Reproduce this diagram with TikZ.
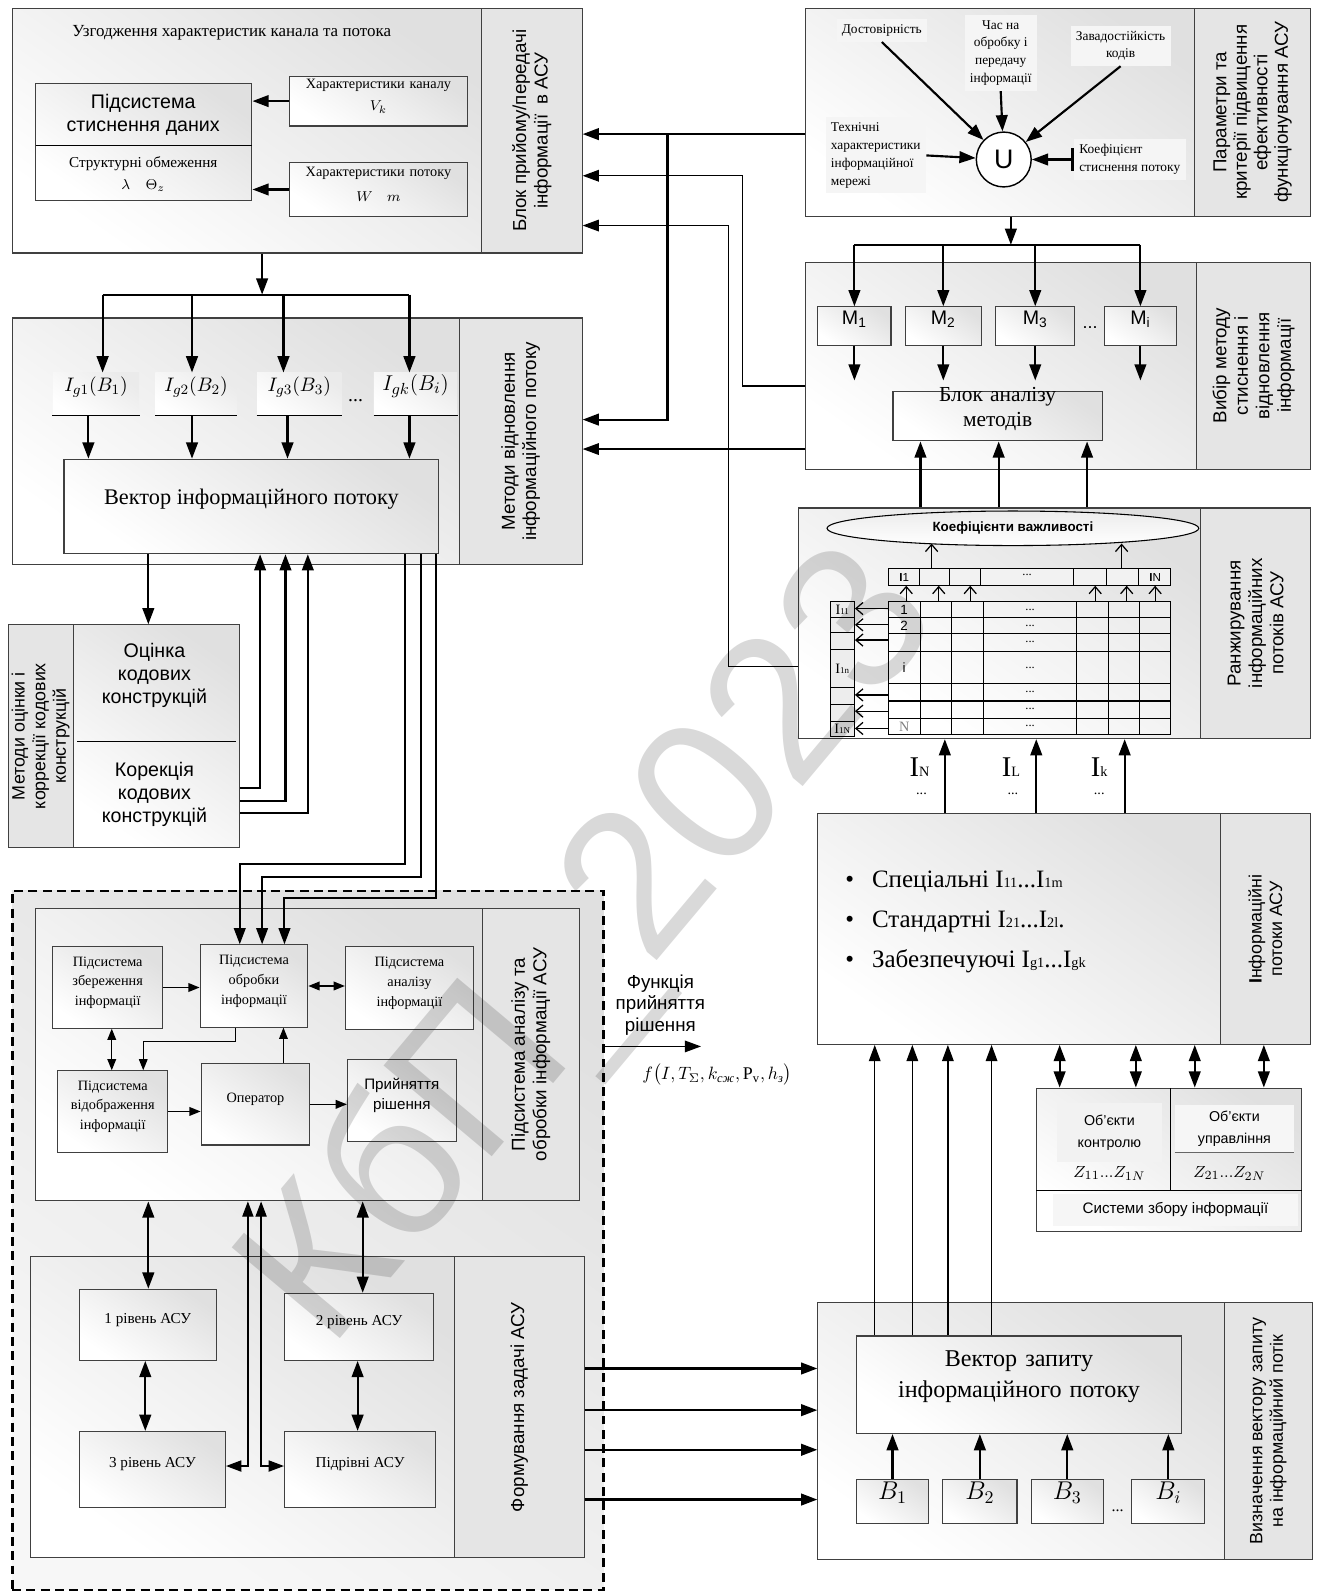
\documentclass[tikz,border=0pt]{standalone}
\usepackage{fontspec}
\usepackage{amsmath}
\setmainfont{Liberation Serif}
\setsansfont{Liberation Sans}
\usetikzlibrary{arrows.meta,calc,fit,positioning,shapes.geometric}
\newcommand\fsz[2]{\fontsize{#1}{#2}\selectfont}
\newcommand\lowi[2][8]{{\fontsize{#1}{#1}\selectfont #2}}

\begin{document}
\begin{tikzpicture}[x=0.02cm,y=-0.02cm,
  blk/.style={draw=black!75,line width=0.6pt,inner sep=0pt,
    top color=gray!24,bottom color=white,shading angle=-35},
  strip/.style={draw=black!75,line width=0.6pt,inner sep=0pt,fill=gray!20},
  slbl/.style={rotate=90,align=center,font=\sffamily\fsz{10.5}{12}},
  ibox/.style={blk,align=center,font=\fsz{8}{11}},
  igb/.style={inner sep=0pt,top color=gray!16,bottom color=white,shading angle=-35},
  ptxt/.style={font=\fsz{7.5}{10},align=center,fill=gray!8,inner sep=3pt},
  dshbox/.style={draw,line width=1.6pt,dash pattern=on 5pt off 3pt,inner sep=0pt,
    top color=gray!24,bottom color=gray!6,shading angle=-35},
  arr/.style={-{Triangle[length=3.2mm,width=2.3mm]},line width=1.2pt},
  darr/.style={{Triangle[length=3.2mm,width=2.3mm]}-{Triangle[length=3.2mm,width=2.3mm]},line width=1.2pt},
  tarr/.style={-{Triangle[length=3.2mm,width=2.3mm]},line width=0.7pt},
  tdarr/.style={{Triangle[length=3mm,width=2.2mm]}-{Triangle[length=3mm,width=2.2mm]},line width=0.7pt},
  sarr/.style={-{Triangle[length=2.2mm,width=1.7mm]},line width=0.8pt},
  sdarr/.style={{Triangle[length=2.2mm,width=1.7mm]}-{Triangle[length=2.2mm,width=1.7mm]},line width=0.8pt},
  chev/.style={-{Straight Barb[length=1.4mm,width=2.4mm]},line width=0.7pt},
  busln/.style={line width=1.2pt}]

\fill[white] (0,0) rectangle (1305,1568);
\useasboundingbox (0,0) rectangle (1305,1568);

% block: receive / transmit
\node[blk,fit={(12,8)(474,249)}] (tx) {};
\node[strip,fit={(474,8)(573,249)}] (txS) {};
\node[slbl] at (txS) {Блок прийому/передачі\\інформації\ \ в АСУ};
\node[font=\fsz{9.5}{11}] (txT) at (228,32) {Узгодження характеристик канала та потока};
\node[blk,fit={(35,82)(248,197)}] (szh) {};
\coordinate (szhM) at (35,143);
\draw[line width=0.6pt] (szhM) -- (szhM -| szh.east);
\node[font=\sffamily\fsz{11}{13},align=center] (szhT) at (141,113) {Підсистема\\стиснення даних};
\node[font=\fsz{8.5}{12.5},align=center] (szhB) at (141,171) {Структурні обмеження\\$\lambda\quad\Theta_z$};
\node[blk,fit={(285,75)(460,124)},font=\fsz{8}{12.5},align=center] (chk) {Характеристики каналу\\$V_k$};
\node[blk,fit={(285,160)(460,213)},font=\fsz{8}{14},align=center] (chp) {Характеристики потоку\\$W\quad m$};

% block: restoring methods
\node[blk,fit={(12,313)(452,556)}] (vidn) {};
\node[strip,fit={(452,313)(573,556)}] (vidnS) {};
\node[slbl] at (vidnS) {Методи відновлення\\інформаційного потоку};
\node[igb,fit={(52,367)(137,409)},font=\fsz{11}{13}] (ig1) {$I_{g1}(B_1)$};
\node[igb,fit={(153,367)(233,409)},font=\fsz{11}{13}] (ig2) {$I_{g2}(B_2)$};
\node[igb,fit={(253,367)(336,409)},font=\fsz{11}{13}] (ig3) {$I_{g3}(B_3)$};
\node[igb,fit={(368,367)(450,409)},font=\fsz{12.5}{14}] (ig4) {$I_{gk}(B_i)$};
\node[font=\fsz{11}{13}] (igd) at (350,394) {...};
\foreach \n in {ig1,ig2,ig3,ig4}
  \draw[line width=0.6pt] (\n.south west) -- (\n.south east);
\node[blk,fit={(63,452)(432,545)},font=\fsz{12.5}{15}] (vek) {Вектор інформаційного потоку};

% block: code constructions
\node[blk,fit={(72,615)(236,834)}] (kod) {};
\node[strip,fit={(8,615)(72,834)}] (kodS) {};
\node[slbl,font=\sffamily\fsz{10}{11.5}] at (kodS) {Методи оцінки і\\коррекції кодових\\конструкцій};
\coordinate (kodM1) at (76,730);
\coordinate (kodM2) at (232,730);
\draw[line width=0.6pt] (kodM1) -- (kodM2);
\node[font=\sffamily\fsz{11}{13},align=center] (ots) at (152,665) {Оцінка\\кодових\\конструкцій};
\node[font=\sffamily\fsz{11}{13},align=center] (kor) at (152,782) {Корекція\\кодових\\конструкцій};

% dashed group
\node[dshbox,fit={(12,877)(594,1565)}] (dshB) {};
\node[blk,fit={(35,894)(475,1182)}] (ana) {};
\node[strip,fit={(475,894)(570,1182)}] (anaS) {};
\node[slbl] at (anaS) {Підсистема аналізу та\\обробки інформації АСУ};
\node[ibox,fit={(52,932)(160,1012)}] (zber) {Підсистема\\збереження\\інформації};
\node[ibox,fit={(197,930)(303,1011)}] (obr) {Підсистема\\обробки\\інформації};
\node[ibox,fit={(340,932)(466,1013)}] (anl) {Підсистема\\аналізу\\інформації};
\node[ibox,fit={(57,1054)(165,1134)}] (vid) {Підсистема\\відображення\\інформації};
\node[ibox,fit={(198,1047)(305,1127)}] (oper) {Оператор};
\node[ibox,fit={(342,1043)(449,1124)},font=\sffamily\fsz{8.5}{11}] (pr) {Прийняття\\рішення};

\node[blk,fit={(30,1237)(447,1533)}] (frm) {};
\node[strip,fit={(447,1237)(575,1533)}] (frmS) {};
\node[slbl] at (frmS) {Формування задачі АСУ};
\node[ibox,fit={(78,1269)(213,1339)},font=\fsz{8.5}{11}] (lv1) {1 рівень АСУ};
\node[ibox,fit={(280,1273)(427,1339)},font=\fsz{8.5}{11}] (lv2) {2 рівень АСУ};
\node[ibox,fit={(78,1409)(222,1484)},font=\fsz{8.5}{11}] (lv3) {3 рівень АСУ};
\node[ibox,fit={(280,1409)(429,1484)},font=\fsz{8.5}{11}] (pidr) {Підрівні АСУ};

% block: parameters
\node[blk,fit={(793,8)(1176,213)}] (par) {};
\node[strip,fit={(1176,8)(1290,213)}] (parS) {};
\node[slbl,font=\sffamily\fsz{10.5}{11.5}] at (parS) {Параметри та\\критерії підвищення\\ефективності\\функціонування АСУ};
\node[ptxt] (dost) at (868,30) {Достовірність};
\node[ptxt] (chas) at (985,52) {Час на\\обробку і\\передачу\\інформації};
\node[ptxt] (zav) at (1103,45) {Завадостійкість\\кодів};
\node[ptxt,align=left] (tekh) at (862,153) {Технічні\\характеристики\\інформаційної\\мережі};
\node[ptxt,align=left] (koef) at (1112,157) {Коефіцієнт\\стиснення потоку};
\node[draw,circle,line width=0.8pt,fill=white,minimum size=1.08cm,inner sep=0pt,
  font=\sffamily\fsz{15}{16}] (uni) at (988,157) {U};

% block: method choice
\node[blk,fit={(793,258)(1178,462)}] (vyb) {};
\node[strip,fit={(1178,258)(1290,462)}] (vybS) {};
\node[slbl] at (vybS) {Вибір методу\\стиснення і\\відновлення\\інформації};
\node[blk,fit={(805,302)(877,340)},font=\sffamily\fsz{11}{13}] (m1) {M\textsubscript{1}};
\node[blk,fit={(891,302)(966,340)},font=\sffamily\fsz{11}{13}] (m2) {M\textsubscript{2}};
\node[blk,fit={(980,302)(1058,340)},font=\sffamily\fsz{11}{13}] (m3) {M\textsubscript{3}};
\node[blk,fit={(1087,302)(1158,340)},font=\sffamily\fsz{11}{13}] (m4) {M\textsubscript{i}};
\node[font=\sffamily\fsz{10}{12}] (md) at (1073,322) {...};
\node[blk,fit={(879,385)(1085,434)},font=\fsz{12}{14},align=center] (ban) {Блок аналізу\\методів};

% block: ranking
\node[blk,fit={(786,500)(1182,727)}] (rank) {};
\node[strip,fit={(1182,500)(1290,727)}] (rankS) {};
\node[slbl] at (rankS) {Ранжирування\\інформаційних\\потоків АСУ};
\node[draw,ellipse,line width=0.6pt,minimum width=7.32cm,minimum height=0.68cm,inner sep=0pt,
  top color=gray!15,bottom color=white,font=\sffamily\bfseries\fsz{7.5}{9}] (kv) at (997,520) {Коефіцієнти важливості};
\node[draw,line width=0.6pt,inner sep=0pt,fill=gray!10,fit={(875,560)(1152,576)}] (trow) {};
\foreach \x in {905,935,965,1057,1089,1121}
  \draw[line width=0.6pt] (\x,560) -- (\x,576);
\node[font=\sffamily\fsz{6.5}{7}] (tr1) at (890,568) {{\bfseries I}1};
\node[font=\sffamily\fsz{6.5}{7}] (trN) at (1137,568) {{\bfseries I}N};
\node[font=\fsz{7}{8}] (trd) at (1011,566) {...};
\node[draw,line width=0.6pt,inner sep=0pt,top color=gray!14,bottom color=white,shading angle=-35,
  fit={(875,592)(1152,723)}] (tab) {};
\foreach \x in {906,937,968,1060,1091,1122}
  \draw[line width=0.6pt] (\x,592) -- (\x,723);
\foreach \y in {608,624,641,673,690,707}
  \draw[line width=0.6pt] (875,\y) -- (1152,\y);
\foreach \y/\t [count=\i] in {600/1,616/2,657/i}
  \node[font=\sffamily\fsz{7.5}{8}] (rw\i) at (890,\y) {\t};
\node[font=\fsz{8}{9},text=gray] (rwN) at (890,715) {N};
\foreach \y [count=\i] in {600,616,632,657,681,698,715}
  \node[font=\fsz{7}{8}] (td\i) at (1014,\y) {...};
\node[draw,line width=0.6pt,inner sep=0pt,fill=gray!14,fit={(817,592)(841,725)}] (lcol) {};
\foreach \y in {608,623,639,677,693,710}
  \draw[line width=0.6pt] (817,\y) -- (841,\y);
\node[font=\fsz{8}{9}] (lc1) at (829,600) {I\lowi[5]{11}};
\node[font=\fsz{8}{9}] (lc2) at (829,658) {I\lowi[5]{1n}};
\node[font=\fsz{8}{9}] (lc3) at (829,717) {I\lowi[5]{1N}};
\node[font=\fsz{16}{18}] (lbN) at (905,755) {I\lowi{N}};
\node[font=\fsz{16}{18}] (lbL) at (995,755) {I\lowi{L}};
\node[font=\fsz{16}{18}] (lbK) at (1082,755) {I\lowi{k}};
\node[font=\fsz{8}{9}] (dN) at (907,781) {...};
\node[font=\fsz{8}{9}] (dL) at (997,781) {...};
\node[font=\fsz{8}{9}] (dK) at (1082,781) {...};

% block: information flows
\node[blk,fit={(805,801)(1201,1028)}] (inf) {};
\node[strip,fit={(1201,801)(1290,1028)}] (infS) {};
\node[slbl,font=\sffamily\fsz{10}{11.5}] at (infS) {{\bfseries І}нформаційні\\потоки АСУ};
\node[anchor=west,font=\fsz{14}{16}] (bl1) at (826,868) {\textbullet\hspace{10pt}Спеціальні I\lowi{11}...I\lowi{1m}};
\node[anchor=west,font=\fsz{14}{16}] (bl2) at (826,907) {\textbullet\hspace{10pt}Стандартні I\lowi{21}...I\lowi{2l}.};
\node[anchor=west,font=\fsz{14}{16}] (bl3) at (826,946) {\textbullet\hspace{10pt}Забезпечуючі I\lowi{g1}...I\lowi{gk}};

% block: collection systems
\node[blk,fit={(1020,1071)(1281,1212)}] (zb) {};
\node[fill=gray!10,inner sep=0pt,minimum width=2.08cm,minimum height=1.16cm,
  font=\sffamily\fsz{8}{12},align=center] (okon) at (1092,1115) {Об’єкти\\контролю};
\node[fill=gray!7,inner sep=0pt,minimum width=2.34cm,minimum height=0.92cm,
  font=\sffamily\fsz{8}{12},align=center] (oupr) at (1215,1111) {Об’єкти\\управління};
\draw[line width=0.5pt,black!60] (oupr.south west) -- (oupr.south east);
\coordinate (zbD) at (1152,1071);
\coordinate (zbH) at (1020,1172);
\draw[line width=0.6pt] (zbD) -- (zbD |- zbH);
\draw[line width=0.6pt] (zbH) -- (zbH -| zb.east);
\node[font=\fsz{9.5}{11}] (z1) at (1092,1155) {$Z_{11}...Z_{1N}$};
\node[font=\fsz{9.5}{11}] (z2) at (1210,1155) {$Z_{21}...Z_{2N}$};
\node[fill=gray!7,inner sep=0pt,minimum width=4.84cm,minimum height=0.62cm,
  font=\sffamily\fsz{8.5}{10}] (szb) at (1157,1191) {Системи збору інформації};

% block: request vector
\node[blk,fit={(805,1282)(1205,1535)}] (vz) {};
\node[strip,fit={(1205,1282)(1292,1535)}] (vzS) {};
\node[slbl,font=\sffamily\fsz{10}{11.5}] at (vzS) {Визначення вектору запиту\\на інформаційний потік};
\node[blk,fit={(843,1315)(1163,1411)},font=\fsz{13.5}{17},align=center] (zap) {Вектор запиту\\інформаційного потоку};
\node[blk,fit={(843,1456)(914,1500)},font=\fsz{14.5}{16}] (b1) {$B_1$};
\node[blk,fit={(928,1456)(1001,1500)},font=\fsz{14.5}{16}] (b2) {$B_2$};
\node[blk,fit={(1015,1456)(1086,1500)},font=\fsz{14.5}{16}] (b3) {$B_3$};
\node[blk,fit={(1114,1456)(1186,1500)},font=\fsz{14.5}{16}] (b4) {$B_i$};
\node[font=\fsz{9}{10}] (bd) at (1100,1487) {...};

\node[font=\sffamily\fsz{10.5}{12},align=center] (fun) at (650,989) {Функція\\прийняття\\рішення};
\node[font=\fsz{10}{12}] (funF) at (706,1058)
  {$f\bigl(I,T_{\Sigma},k_{\text{\textit{сж}}},\mathrm{P}_{\text{v}},h_{\text{\textit{з}}}\bigr)$};

% connectors, left column
\draw[arr] (chk.west) -- (chk.west -| szh.east);
\draw[arr] (chp.west) -- (chp.west -| szh.east);
\coordinate (busA) at (258,290);
\draw[arr] (tx.south -| busA) -- (busA);
\foreach \n/\xa/\xb in {ig1/101/87,ig2/189/189,ig3/279/283,ig4/403/403}{
  \coordinate (in\n) at (\xa,290);
  \coordinate (out\n) at (\xb,0);
  \draw[arr] (in\n) -- (in\n |- \n.north);
  \draw[arr] (\n.south -| out\n) -- (vek.north -| out\n);
}
\draw[busln] (inig1) -- (inig4);
\coordinate (kodIn) at (146,0);
\draw[arr] (vek.south -| kodIn) -- (kod.north -| kodIn);
\foreach \y/\x [count=\i] in {776/256,788/281,800/303}{
  \coordinate (kc\i) at (\x,\y);
  \draw[arr] (kod.east |- kc\i) -- (kc\i) -- (kc\i |- vek.south);
}
\foreach \xa/\ya/\xb [count=\i] in {399/850/236,414/863/258,429/884/280}{
  \coordinate (vp\i) at (\xa,\ya);
  \coordinate (pv\i) at (\xb,\ya);
  \draw[arr,line width=1.1pt] (vek.south -| vp\i) -- (vp\i) -- (pv\i) -- (pv\i |- obr.north);
}

% connectors inside the dashed group
\draw[sarr] (zber.east) -- (zber.east -| obr.west);
\draw[sdarr] (obr.east) -- (obr.east -| anl.west);
\coordinate (ez) at (110,0);
\draw[sdarr] (zber.south -| ez) -- (vid.north -| ez);
\coordinate (eo1) at (232,1025);
\coordinate (eo2) at (141,1025);
\draw[sarr,line width=0.6pt] (obr.south -| eo1) -- (eo1) -- (eo2) -- (eo2 |- vid.north);
\coordinate (eo3) at (279,0);
\draw[sarr,line width=0.6pt] (oper.north -| eo3) -- (obr.south -| eo3);
\draw[sarr] (vid.east) -- (vid.east -| oper.west);
\draw[sarr] (oper.east) -- (oper.east -| pr.west);
\coordinate (ef1) at (146,0);
\draw[darr] (ana.south -| ef1) -- (lv1.north -| ef1);
\coordinate (ef2) at (357,0);
\draw[darr] (ana.south -| ef2) -- (lv2.north -| ef2);
\coordinate (eq1) at (244,1443);
\coordinate (eq2) at (257,1443);
\draw[tdarr] (ana.south -| eq1) -- (eq1) -- (lv3.east |- eq1);
\draw[tdarr] (ana.south -| eq2) -- (eq2) -- (pidr.west |- eq2);
\coordinate (ff1) at (143,0);
\draw[darr] (lv1.south -| ff1) -- (lv3.north -| ff1);
\coordinate (ff2) at (352,0);
\draw[darr] (lv2.south -| ff2) -- (pidr.north -| ff2);
\coordinate (funE) at (690,1030);
\draw[tarr] (dshB.east |- funE) -- (funE);

% connectors, right column
\draw[arr] (dost.south) -- (uni);
\draw[arr] (chas.south) -- (uni);
\draw[arr] (zav.south) -- (uni);
\draw[arr] (tekh.east) -- (uni);
\draw[{Bar[width=4.5mm]}-{Triangle[length=3.2mm,width=2.3mm]},line width=1.2pt] (koef.west) -- (uni);
\coordinate (pm) at (995,241);
\coordinate (pmL) at (841,241);
\coordinate (pmR) at (1122,241);
\draw[arr] (par.south -| pm) -- (pm);
\draw[busln] (pmL) -- (pmR);
\foreach \n in {m1,m2,m3,m4}{
  \coordinate (e\n) at ($(\n.south)+(0,34)$);
  \draw[arr] (\n.north |- pm) -- (\n.north);
  \draw[arr] (\n.south) -- (e\n);
}
\foreach \x [count=\i] in {906,983,1070}{
  \coordinate (ra\i) at (\x,0);
  \draw[arr] (rank.north -| ra\i) -- (ban.south -| ra\i);
}
\foreach \x [count=\i] in {892,924,955,1078,1109,1137}{
  \coordinate (tu\i) at (\x,0);
  \draw[chev] (tab.north -| tu\i) -- (trow.south -| tu\i);
}
\foreach \x [count=\i] in {917,1104}{
  \coordinate (te\i) at (\x,535);
  \draw[chev] (trow.north -| te\i) -- (te\i);
}
\foreach \y [count=\i] in {599,615,630,684,700,717}{
  \coordinate (la\i) at (0,\y);
  \draw[chev] (tab.west |- la\i) -- (lcol.east |- la\i);
}
\foreach \x [count=\i] in {930,1020,1107}{
  \coordinate (ir\i) at (\x,0);
  \draw[arr] (inf.north -| ir\i) -- (rank.south -| ir\i);
}
\foreach \x [count=\i] in {861,898,933,976}{
  \coordinate (zi\i) at (\x,0);
  \draw[tarr] (zap.north -| zi\i) -- (inf.south -| zi\i);
}
\foreach \x [count=\i] in {1043,1118,1176,1244}{
  \coordinate (iz\i) at (\x,0);
  \draw[darr] (infS.south -| iz\i) -- (zb.north -| iz\i);
}
\foreach \y [count=\i] in {1347,1388,1427,1476}{
  \coordinate (fg\i) at (0,\y);
  \draw[arr] (frmS.east |- fg\i) -- (vz.west |- fg\i);
}
\foreach \n in {b1,b2,b3,b4}
  \draw[arr] (\n.north) -- (\n.north |- zap.south);

% connectors between columns
\coordinate (cp1) at (657,132);
\coordinate (cp2) at (657,413);
\draw[arr] (par.west |- cp1) -- (txS.east |- cp1);
\draw[arr] (cp1) -- (cp2) -- (vidnS.east |- cp2);
\coordinate (cv1) at (731,173);
\coordinate (cv2) at (731,380);
\draw[tarr] (vyb.west |- cv2) -- (cv2) -- (cv1) -- (txS.east |- cv1);
\coordinate (cr1) at (717,222);
\coordinate (cr2) at (717,656);
\draw[tarr] (rank.west |- cr2) -- (cr2) -- (cr1) -- (txS.east |- cr1);
\coordinate (cv3) at (700,442);
\draw[tarr] (vyb.west |- cv3) -- (vidnS.east |- cv3);

\node[rotate=50,text=black,opacity=0.15,font=\sffamily\fsz{115}{115}] (wm) at (585,935) {КбП\_2023};
\end{tikzpicture}
\end{document}
